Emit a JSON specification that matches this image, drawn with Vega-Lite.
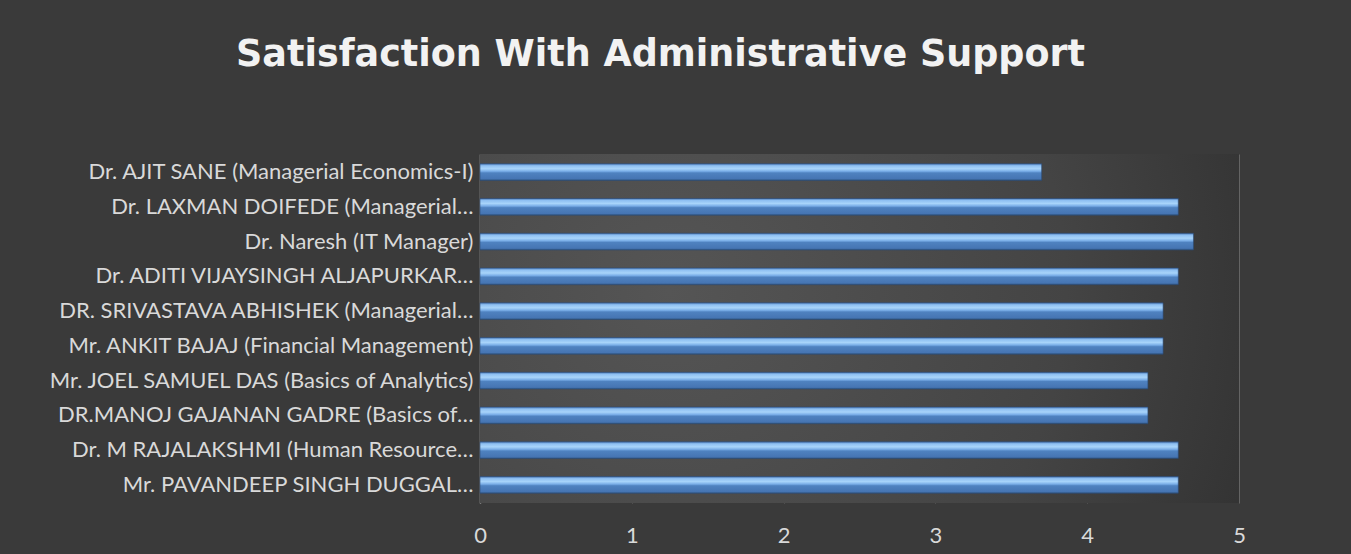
{
  "$schema": "https://vega.github.io/schema/vega-lite/v6.json",
  "width": 759,
  "height": 349,
  "autosize": {"type": "none"},
  "padding": {"left": 480, "top": 154, "right": 112, "bottom": 51},
  "background": "#3a3a3a",
  "title": {
    "text": "Satisfaction With Administrative Support",
    "font": "DejaVu Sans",
    "fontSize": 36.5,
    "fontWeight": "bold",
    "color": "#f2f2f2",
    "anchor": "middle",
    "dx": -199,
    "offset": 81
  },
  "config": {
    "view": {"stroke": null}
  },
  "layer": [
    {
      "data": {"values": [{}]},
      "mark": {
        "type": "rect",
        "color": {
          "gradient": "radial",
          "x1": 0.25, "y1": 0.45, "r1": 0,
          "x2": 0.25, "y2": 0.45, "r2": 0.95,
          "stops": [
            {"offset": 0, "color": "#555555"},
            {"offset": 0.55, "color": "#444444"},
            {"offset": 1, "color": "#2b2b2b"}
          ]
        }
      },
      "encoding": {}
    },
    {
      "data": {
        "values": [
          {"name": "Dr. AJIT SANE (Managerial Economics-I)", "value": 3.7},
          {"name": "Dr. LAXMAN DOIFEDE (Managerial…", "value": 4.6},
          {"name": "Dr. Naresh (IT Manager)", "value": 4.7},
          {"name": "Dr. ADITI VIJAYSINGH ALJAPURKAR…", "value": 4.6},
          {"name": "DR. SRIVASTAVA ABHISHEK (Managerial…", "value": 4.5},
          {"name": "Mr. ANKIT BAJAJ (Financial Management)", "value": 4.5},
          {"name": "Mr. JOEL SAMUEL DAS (Basics of Analytics)", "value": 4.4},
          {"name": "DR.MANOJ GAJANAN GADRE (Basics of…", "value": 4.4},
          {"name": "Dr. M RAJALAKSHMI (Human Resource…", "value": 4.6},
          {"name": "Mr. PAVANDEEP SINGH DUGGAL…", "value": 4.6}
        ]
      },
      "mark": {
        "type": "bar",
        "stroke": "#2b4a73",
        "strokeWidth": 0.6,
        "color": {
          "gradient": "linear",
          "x1": 0, "y1": 0, "x2": 0, "y2": 1,
          "stops": [
            {"offset": 0, "color": "#4a7ab8"},
            {"offset": 0.12, "color": "#8fc0f2"},
            {"offset": 0.3, "color": "#a8d4fa"},
            {"offset": 0.45, "color": "#7aaee8"},
            {"offset": 0.55, "color": "#4f82c0"},
            {"offset": 0.9, "color": "#4675b3"},
            {"offset": 1, "color": "#2f5785"}
          ]
        }
      },
      "encoding": {
        "y": {
          "field": "name",
          "type": "nominal",
          "sort": null,
          "scale": {"paddingInner": 0.52, "paddingOuter": 0.28},
          "axis": {
            "title": null,
            "domain": true,
            "domainColor": "#a6a6a6",
            "domainWidth": 1.5,
            "ticks": false,
            "labelPadding": 7,
            "labelFont": "Lato",
            "labelFontSize": 22,
            "labelColor": "#d9d9d9",
            "labelLimit": 0
          }
        },
        "x": {
          "field": "value",
          "type": "quantitative",
          "scale": {"domain": [0, 5], "nice": false},
          "axis": {
            "title": null,
            "values": [0, 1, 2, 3, 4, 5],
            "grid": true,
            "gridColor": "#646464",
            "gridWidth": 1,
            "domain": false,
            "ticks": false,
            "labelFlush": false,
            "labelPadding": 22,
            "labelFont": "Lato",
            "labelFontSize": 22,
            "labelColor": "#d9d9d9"
          }
        }
      }
    }
  ]
}
